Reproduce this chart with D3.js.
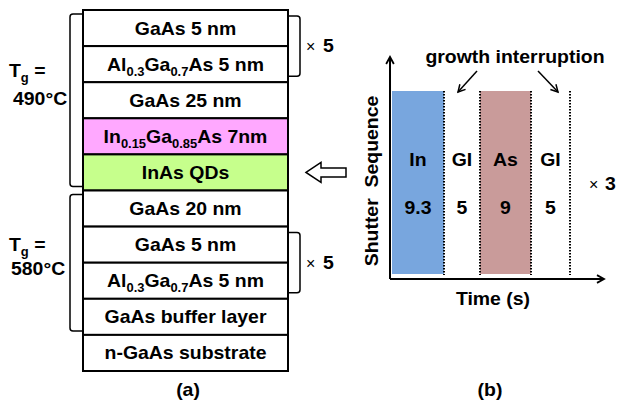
<!DOCTYPE html>
<html>
<head>
<meta charset="utf-8">
<script src="https://cdn.jsdelivr.net/npm/d3@7"></script>
<style>
  html, body { margin: 0; padding: 0; background: #fff; }
  svg { display: block; font-family: "Liberation Sans", Arial, sans-serif; }
  text { white-space: pre; }
</style>
</head>
<body>
<svg id="fig" width="618" height="405"></svg>
<script>
// layer stack, top to bottom
let layerNames = ["GaAs 5 nm", "Al_{0.3}Ga_{0.7}As 5 nm", "GaAs 25 nm", "In_{0.15}Ga_{0.85}As 7nm",
                  "InAs QDs", "GaAs 20 nm", "GaAs 5 nm", "Al_{0.3}Ga_{0.7}As 5 nm",
                  "GaAs buffer layer", "n-GaAs substrate"];
let layerFills = ["#fff", "#fff", "#fff", "#ffa8ff", "#c6ff8c", "#fff", "#fff", "#fff", "#fff", "#fff"];
// growth temperature groups (first / last layer index)
let tempFrom = [0, 5];
let tempTo = [4, 8];
let tempLabels = ["490°C", "580°C"];
// repeated periods
let repFrom = [0, 6];
let repTo = [1, 7];
let repCounts = ["5", "5"];

// shutter sequence
let steps = ["In", "GI", "As", "GI"];
let stepTimes = [9.3, 5, 9, 5];
let stepFills = ["#78a6de", null, "#c99b9a", null];
let cycles = "3";

let svg = d3.select("#fig");
let FS = 18;      // main font size
let SX = 1.08;    // source text is a bit wider than Liberation Sans

// text with _{sub} markup, anchored at (x, y) baseline
function label(parent, x, y, str, anchor, size, weight) {
    let g = parent.append("g").attr("transform", `translate(${x},${y}) scale(${SX},1)`);
    let t = g.append("text")
        .attr("text-anchor", anchor || "middle")
        .style("font-size", (size || FS) + "px")
        .style("font-weight", weight || "bold");
    let parts = str.split(/_\{([^}]*)\}/);
    let shift = 0;
    parts.forEach((p, i) => {
        if (p === "") return;
        let ts = t.append("tspan").text(p);
        if (i % 2 === 1) {
            ts.attr("dy", 5 - shift).style("font-size", "12px");
            shift = 5;
        } else if (shift) {
            ts.attr("dy", -shift);
            shift = 0;
        }
    });
    return g;
}

// ---------- (a) layer stack ----------
let xL = 83, xR = 288;
let y = d3.scaleBand()
    .domain(d3.range(layerNames.length))
    .range([10, 371]);

let stack = svg.append("g");
stack.selectAll("rect")
    .data(layerNames)
    .enter().append("rect")
    .attr("x", xL)
    .attr("y", (d, i) => y(i))
    .attr("width", xR - xL)
    .attr("height", y.bandwidth())
    .attr("fill", (d, i) => layerFills[i])
    .attr("stroke", "#000")
    .attr("stroke-width", 2);

layerNames.forEach((d, i) => {
    label(stack, (xL + xR) / 2, y(i) + y.bandwidth() / 2 + 6.5, d);
});

// left brackets + temperature
function bracket(x0, x1, y0, y1) {
    let r = 3 * Math.sign(x1 - x0);
    return `M${x1},${y0} L${x0 + r},${y0} Q${x0},${y0} ${x0},${y0 + 3} L${x0},${y1 - 3} Q${x0},${y1} ${x0 + r},${y1} L${x1},${y1}`;
}

tempLabels.forEach((t, k) => {
    let y0 = y(tempFrom[k]) + 4;
    let y1 = y(tempTo[k]) + y.bandwidth() - 4;
    stack.append("path")
        .attr("d", bracket(70, 82, y0, y1))
        .attr("fill", "none")
        .attr("stroke", "#000")
        .attr("stroke-width", 1.5);
});
label(stack, 9, 77, "T_{g} =", "start");
label(stack, 13, 105, tempLabels[0], "start");
label(stack, 9, 251, "T_{g} =", "start");
label(stack, 11, 275, tempLabels[1], "start");

// right brackets + repeat count
repCounts.forEach((c, k) => {
    let y0 = y(repFrom[k]) + 6;
    let y1 = y(repTo[k]) + y.bandwidth() - 6;
    stack.append("path")
        .attr("d", bracket(300, 289, y0, y1))
        .attr("fill", "none")
        .attr("stroke", "#000")
        .attr("stroke-width", 1.5);
    let g = stack.append("g").attr("transform", `translate(306,${(y0 + y1) / 2 + 6})`);
    g.append("text").style("font-size", "16px").text("\u00d7");
    label(g, 17, 0, c, "start");
});

// hollow arrow pointing at the QD layer
let ay = y(4) + y.bandwidth() / 2;
svg.append("path")
    .attr("d", `M306,${ay} L321,${ay - 10} L321,${ay - 4.5} L346,${ay - 4.5} L346,${ay + 4.5} L321,${ay + 4.5} L321,${ay + 10} Z`)
    .attr("fill", "#fff")
    .attr("stroke", "#000")
    .attr("stroke-width", 1.5);

label(svg, 188, 396, "(a)");

// ---------- (b) shutter sequence ----------
let cum = [0];
stepTimes.forEach(t => cum.push(cum[cum.length - 1] + t));
// schematic time axis: piecewise so each step gets its drawn width
let x = d3.scaleLinear().domain(cum).range([392, 444, 480, 531, 570]);
let yTop = 91, yBot = 274, axY = 279, axX = 390;

let stepData = steps.map((s, i) => ({ name: s, t0: cum[i], t1: cum[i + 1], fill: stepFills[i] }));

let sh = svg.append("g");
sh.selectAll("rect.step")
    .data(stepData.filter(d => d.fill))
    .enter().append("rect")
    .attr("class", "step")
    .attr("x", d => x(d.t0))
    .attr("y", yTop)
    .attr("width", d => x(d.t1) - x(d.t0))
    .attr("height", yBot - yTop)
    .attr("fill", d => d.fill);

// dotted boundaries
cum.slice(1).forEach(t => {
    sh.append("line")
        .attr("x1", x(t)).attr("x2", x(t))
        .attr("y1", yTop).attr("y2", yBot + 1)
        .attr("stroke", "#000")
        .attr("stroke-width", 2)
        .attr("stroke-dasharray", "1.5,1.5");
});

stepData.forEach((d, i) => {
    let cx = (x(d.t0) + x(d.t1)) / 2;
    label(sh, cx, 166, d.name);
    label(sh, cx, 214, String(stepTimes[i]));
});

// axes
function chevron(px, py, dir) {
    // open arrowhead, dir in degrees (0 = right)
    let a = dir * Math.PI / 180, L = 8, w = 0.5;
    let p1 = [px - L * Math.cos(a - w), py - L * Math.sin(a - w)];
    let p2 = [px - L * Math.cos(a + w), py - L * Math.sin(a + w)];
    return `M${p1[0]},${p1[1]} L${px},${py} L${p2[0]},${p2[1]}`;
}
sh.append("line").attr("x1", axX).attr("x2", axX).attr("y1", axY).attr("y2", 58)
    .attr("stroke", "#000").attr("stroke-width", 2);
sh.append("line").attr("x1", axX).attr("x2", 603).attr("y1", axY).attr("y2", axY)
    .attr("stroke", "#000").attr("stroke-width", 2);
sh.append("path").attr("d", chevron(axX, 57, -90)).attr("fill", "none").attr("stroke", "#000").attr("stroke-width", 1.8);
sh.append("path").attr("d", chevron(604, axY, 0)).attr("fill", "none").attr("stroke", "#000").attr("stroke-width", 1.8);

// growth interruption annotation
label(sh, 515, 63, "growth interruption");
[[477, 71, 458, 92], [538, 71, 558, 92]].forEach(a => {
    let dir = Math.atan2(a[3] - a[1], a[2] - a[0]) * 180 / Math.PI;
    sh.append("line").attr("x1", a[0]).attr("y1", a[1]).attr("x2", a[2]).attr("y2", a[3])
        .attr("stroke", "#000").attr("stroke-width", 1.5);
    sh.append("path").attr("d", chevron(a[2], a[3], dir)).attr("fill", "none")
        .attr("stroke", "#000").attr("stroke-width", 1.5);
});

// axis titles
let yt = sh.append("g").attr("transform", "translate(378,181) rotate(-90)");
label(yt, 0, 0, "Shutter  Sequence");
label(sh, 493, 305, "Time (s)");

let rep = sh.append("g").attr("transform", "translate(589,190)");
rep.append("text").style("font-size", "16px").text("\u00d7");
label(rep, 16, 0, cycles, "start");

label(svg, 490, 396, "(b)");
</script>
</body>
</html>
